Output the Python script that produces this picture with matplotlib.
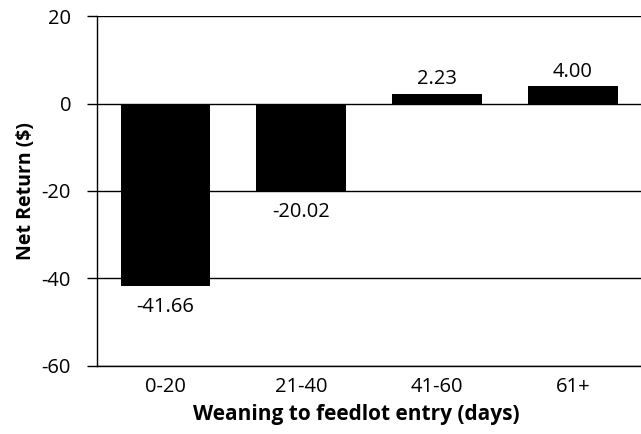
import matplotlib.pyplot as plt

plt.rcParams['font.family'] = ['Open Sans', 'DejaVu Sans']

# Daten
kategorien = ['0-20', '21-40', '41-60', '61+']
nettoertrag = [-41.66, -20.02, 2.23, 4.00]
beschriftung = ['-41.66', '-20.02', '2.23', '4.00']

fig = plt.figure(figsize=(6.41, 4.34), dpi=100)
ax = fig.add_axes([0.152, 0.157, 0.848, 0.806])

x = range(len(kategorien))
ax.set_axisbelow(True)
ax.yaxis.grid(True, color='black', linewidth=1.0)
balken = ax.bar(x, nettoertrag, width=0.66, color='black', zorder=3)

for b, wert, txt in zip(balken, nettoertrag, beschriftung):
    mitte = b.get_x() + b.get_width() / 2
    if wert >= 0:
        ax.text(mitte, wert + 1.0, txt, ha='center', va='bottom', fontsize=14.5)
    else:
        ax.text(mitte, wert - 2.6, txt, ha='center', va='top', fontsize=14.5)

ax.set_xlim(-0.5, 3.5)
ax.set_ylim(-60, 20)
ax.set_yticks([-60, -40, -20, 0, 20])
ax.set_yticklabels(['-60', '-40', '-20', '0', '20'], fontsize=14.5)
ax.set_xticks(list(x))
ax.set_xticklabels(kategorien, fontsize=14.5)
ax.tick_params(axis='x', length=0, pad=8)
ax.tick_params(axis='y', length=7, width=1.0, pad=12)

for s in ['top', 'right']:
    ax.spines[s].set_visible(False)
ax.spines['left'].set_linewidth(1.0)
ax.spines['bottom'].set_linewidth(1.0)

ax.set_xlabel('Weaning to feedlot entry (days)', fontsize=15, fontweight='bold',
              labelpad=5, x=0.476)
ax.set_ylabel('Net Return ($)', fontsize=14, fontweight='bold', labelpad=4)

fig.savefig('out.png', dpi=100)
